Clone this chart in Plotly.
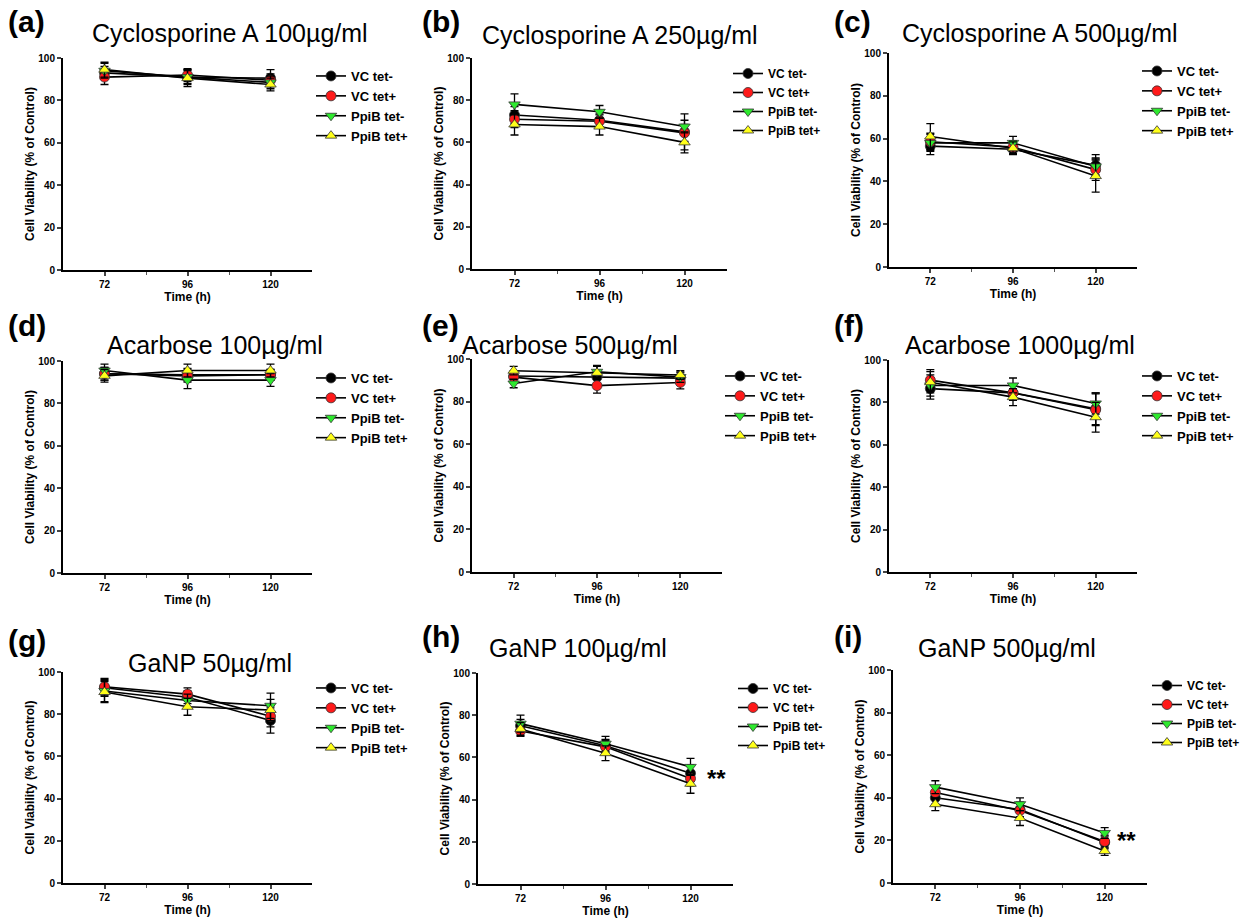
import plotly.graph_objects as go

W, H = 1242, 920

times = [72, 96, 120]
series_names = ["VC tet-", "VC tet+", "PpiB tet-", "PpiB tet+"]
series_colors = ["#000000", "#ff1a1a", "#2ee82e", "#ffff1a"]
series_symbols = ["circle", "circle", "triangle-down", "triangle-up"]

panel_labels = ["(a)", "(b)", "(c)", "(d)", "(e)", "(f)", "(g)", "(h)", "(i)"]
panel_titles = ["Cyclosporine A 100µg/ml", "Cyclosporine A 250µg/ml", "Cyclosporine A 500µg/ml",
                "Acarbose 100µg/ml", "Acarbose 500µg/ml", "Acarbose 1000µg/ml",
                "GaNP 50µg/ml", "GaNP 100µg/ml", "GaNP 500µg/ml"]

y_ticks = [0, 20, 40, 60, 80, 100]
x_ticks = [72, 96, 120]
x_minor_ticks = [84, 108]

# rows: VC tet-, VC tet+, PpiB tet-, PpiB tet+ ; columns: 72, 96, 120 h
cyc100_mean = [[93.0, 91.0, 90.5], [91.0, 92.0, 89.5], [94.0, 91.0, 88.5], [94.5, 90.5, 87.5]]
cyc100_sd = [[3.0, 3.5, 4.0], [3.5, 3.0, 3.0], [3.5, 3.0, 3.0], [3.5, 4.0, 3.0]]
cyc250_mean = [[73.0, 70.5, 65.0], [71.0, 70.0, 64.5], [78.0, 74.5, 67.5], [68.5, 67.5, 60.0]]
cyc250_sd = [[4.0, 3.0, 8.5], [4.0, 3.0, 4.0], [5.0, 3.0, 3.0], [5.0, 4.0, 5.0]]
cyc500_mean = [[56.5, 55.0, 47.5], [58.5, 56.0, 45.5], [58.0, 58.0, 47.0], [61.0, 55.5, 42.5]]
cyc500_sd = [[4.0, 2.0, 5.0], [4.0, 3.0, 5.0], [4.0, 3.0, 4.0], [6.0, 3.0, 7.5]]
aca100_mean = [[94.0, 93.5, 93.5], [94.0, 93.0, 93.5], [95.5, 91.0, 91.0], [93.0, 95.5, 95.5]]
aca100_sd = [[3.0, 3.0, 2.5], [3.0, 3.0, 2.5], [3.0, 4.0, 3.0], [3.0, 3.0, 3.0]]
aca500_mean = [[92.0, 91.5, 91.0], [91.5, 87.5, 89.0], [88.5, 94.0, 91.5], [94.5, 93.5, 92.5]]
aca500_sd = [[2.5, 3.0, 2.5], [2.5, 3.5, 3.0], [2.0, 3.0, 2.5], [2.0, 3.0, 2.0]]
aca1000_mean = [[86.5, 84.5, 77.0], [90.5, 84.5, 76.5], [88.0, 88.0, 79.5], [89.5, 82.5, 73.0]]
aca1000_sd = [[5.0, 3.5, 7.5], [5.0, 3.5, 7.5], [5.0, 3.5, 5.0], [5.0, 4.0, 7.0]]
ganp50_mean = [[92.5, 88.0, 77.0], [93.0, 89.5, 79.0], [91.0, 86.5, 84.0], [90.5, 83.5, 82.0]]
ganp50_sd = [[4.0, 3.0, 6.0], [4.0, 3.0, 5.0], [5.0, 3.0, 6.0], [5.0, 4.0, 5.0]]
ganp100_mean = [[75.0, 65.5, 52.5], [72.5, 65.0, 50.0], [76.0, 66.5, 55.5], [73.5, 62.0, 47.5]]
ganp100_sd = [[3.0, 3.0, 4.0], [2.5, 3.0, 3.5], [4.0, 3.5, 4.0], [3.0, 3.5, 4.5]]
ganp500_mean = [[40.0, 34.5, 19.0], [42.5, 34.0, 19.5], [45.0, 37.0, 23.5], [37.0, 30.5, 15.0]]
ganp500_sd = [[3.0, 3.5, 3.0], [3.0, 3.0, 3.0], [3.0, 3.0, 2.5], [3.0, 3.5, 2.0]]

panel_means = [cyc100_mean, cyc250_mean, cyc500_mean, aca100_mean, aca500_mean,
               aca1000_mean, ganp50_mean, ganp100_mean, ganp500_mean]
panel_sds = [cyc100_sd, cyc250_sd, cyc500_sd, aca100_sd, aca500_sd,
             aca1000_sd, ganp50_sd, ganp100_sd, ganp500_sd]

# significance marks: panel index, label
sig_panels = [7, 8]
sig_text = "**"

# layout (pixels): plot area left, right, top, bottom
plot_boxes = [
    (63, 312, 58, 270), (472, 727, 58, 269), (889, 1137, 53, 267),
    (63, 312, 361, 573), (472, 722, 359, 572), (889, 1137, 360, 572),
    (63, 312, 672, 883), (478, 733, 673, 884), (893, 1147, 670, 883),
]
legend_pos = [(311, 61), (728, 59), (1137, 56), (311, 363), (720, 361), (1137, 361),
              (311, 673), (733, 674), (1147, 671)]
legend_font = [13, 12, 13, 13, 13, 13, 13, 12, 12]
title_pos = [(230, 33), (620, 35), (1040, 33), (215, 345), (570, 345), (1020, 345),
             (210, 663), (578, 648), (1007, 648)]
label_pos = [(6, 22), (420, 22), (832, 22), (6, 325), (420, 325), (832, 325),
             (6, 640), (420, 636), (832, 636)]
sig_pos = [(124.2, 50.0), (123.0, 20.0)]

FONT = "Liberation Sans, Arial, sans-serif"

fig = go.Figure()
annotations = []
layout = dict(
    width=W, height=H, margin=dict(l=0, r=0, t=0, b=0, autoexpand=False),
    paper_bgcolor="white", plot_bgcolor="white", showlegend=True,
    font=dict(family=FONT, color="black"),
)

for p in range(9):
    ax = "" if p == 0 else str(p + 1)
    xname, yname = "x" + ax, "y" + ax
    legname = "legend" + ax
    l, r, t, b = plot_boxes[p]
    for s in range(4):
        fig.add_trace(go.Scatter(
            x=times, y=panel_means[p][s],
            error_y=dict(type="data", array=panel_sds[p][s], color="black", thickness=1.3, width=4),
            mode="lines+markers", name=series_names[s],
            line=dict(color="black", width=1.6),
            marker=dict(symbol=series_symbols[s], size=10, color=series_colors[s],
                        line=dict(color="#333333", width=0.8)),
            xaxis=xname, yaxis=yname, legend=legname, showlegend=True,
        ))
    layout["xaxis" + ax] = dict(
        domain=[l / W, r / W], anchor=yname, range=[60, 132],
        tickvals=x_ticks, ticktext=[str(v) for v in x_ticks],
        ticks="outside", ticklen=4, tickwidth=1.5, showgrid=False, zeroline=False,
        showline=True, linecolor="black", linewidth=2,
        minor=dict(tickvals=x_minor_ticks, ticks="outside", ticklen=3, tickwidth=1, tickcolor="#555"),
        tickfont=dict(family=FONT, size=10, weight="bold"),
        title=dict(text="Time (h)", font=dict(family=FONT, size=12, weight="bold"), standoff=4),
        automargin=False, fixedrange=True,
    )
    layout["yaxis" + ax] = dict(
        domain=[1 - b / H, 1 - t / H], anchor=xname, range=[0, 100],
        tickvals=y_ticks, ticks="outside", ticklen=4, tickwidth=1.5,
        showgrid=False, zeroline=False,
        showline=True, linecolor="black", linewidth=2,
        tickfont=dict(family=FONT, size=10, weight="bold"),
        title=dict(text="Cell Viability (% of Control)", font=dict(family=FONT, size=12, weight="bold"), standoff=1),
        automargin=False, fixedrange=True,
    )
    lx, ly = legend_pos[p]
    layout[legname] = dict(
        x=lx / W, y=1 - ly / H, xanchor="left", yanchor="top",
        font=dict(family=FONT, size=legend_font[p], weight="bold", color="black"),
        bgcolor="rgba(0,0,0,0)", itemwidth=30, tracegroupgap=0,
    )
    tx, ty = title_pos[p]
    annotations.append(dict(text=panel_titles[p], x=tx / W, y=1 - ty / H, xref="paper", yref="paper",
                            xanchor="center", yanchor="middle", showarrow=False,
                            font=dict(family=FONT, size=25, color="black")))
    px_, py_ = label_pos[p]
    annotations.append(dict(text=panel_labels[p], x=px_ / W, y=1 - py_ / H, xref="paper", yref="paper",
                            xanchor="left", yanchor="middle", showarrow=False,
                            font=dict(family=FONT, size=30, weight="bold", color="black")))

for k, p in enumerate(sig_panels):
    ax = str(p + 1)
    sx, sy = sig_pos[k]
    annotations.append(dict(text=sig_text, x=sx, y=sy, xref="x" + ax, yref="y" + ax,
                            xanchor="left", yanchor="middle", showarrow=False,
                            font=dict(family=FONT, size=24, weight="bold", color="black")))

layout["annotations"] = annotations
fig.update_layout(**layout)
fig.write_html(
    "out.html",
    config={"displayModeBar": False},
    post_script="document.body.style.margin='0';document.body.style.padding='0';",
)
